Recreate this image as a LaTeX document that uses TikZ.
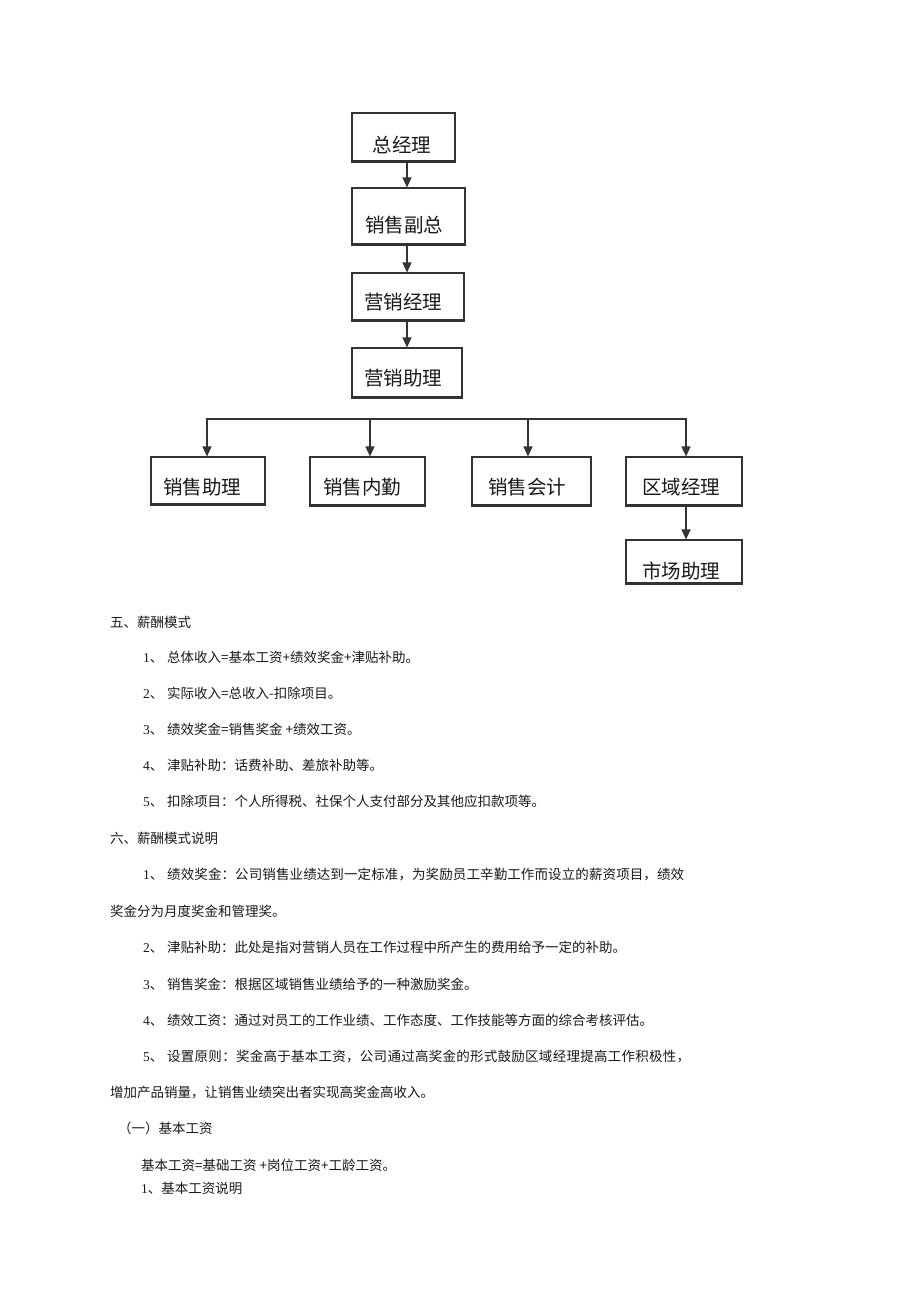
\documentclass[tikz,border=0pt]{standalone}
\usepackage{fontspec}
\usetikzlibrary{arrows.meta}
\newfontfamily\cjk{Noto Sans CJK SC}
\newfontfamily\cjkwa[LetterSpace=0.8]{Noto Sans CJK SC}
\newfontfamily\cjkwb[LetterSpace=2.0]{Noto Sans CJK SC}
\newfontfamily\tms{Liberation Serif}
\definecolor{ln}{HTML}{333333}
\definecolor{tx}{HTML}{1A1A1A}
\begin{document}
\begin{tikzpicture}[x=1pt,y=-1pt,
  box/.style={draw=ln, line width=1.1pt, rectangle, inner sep=0pt},
  ctext/.style={font=\cjk\fontsize{19.5pt}{22pt}\selectfont, text=tx, inner sep=0pt, anchor=center},
  body/.style={font=\cjk\fontsize{13.5pt}{16pt}\selectfont, text=tx, inner sep=0pt, anchor=base west},
  num/.style={font=\tms\fontsize{13.5pt}{16pt}\selectfont, text=tx, inner sep=0pt, anchor=base west},
  arr/.style={draw=ln, line width=1.3pt, -{Triangle[length=10pt,width=9pt]}},
  twoarr/.style={draw=ln, line width=1.3pt, {Triangle[length=10pt,width=9pt]}-{Triangle[length=10pt,width=9pt]}},
  bar/.style={draw=ln, line width=1.3pt}]
\fill[white] (0,0) rectangle (920,1303);
\useasboundingbox (0,0) rectangle (920,1303);

% boxes
\node[box, minimum width=103pt, minimum height=48pt] (zjl)  at (403.5,137) {};
\node[box, minimum width=113pt, minimum height=56pt] (xsfz) at (408.5,216) {};
\node[box, minimum width=112pt, minimum height=47pt] (yxjl) at (408,296.5) {};
\node[box, minimum width=110pt, minimum height=49pt] (yxzl) at (407,372.5) {};
\node[box, minimum width=114pt, minimum height=47pt] (xszl) at (208,480.5) {};
\node[box, minimum width=115pt, minimum height=48pt] (xsnq) at (367.5,481) {};
\node[box, minimum width=119pt, minimum height=48pt] (xskj) at (531.5,481) {};
\node[box, minimum width=116pt, minimum height=48pt] (qyjl) at (684,481) {};
\node[box, minimum width=116pt, minimum height=43pt] (sczl) at (684,561.5) {};
\foreach \n in {zjl,xsfz,yxjl,yxzl,xszl,xsnq,xskj,qyjl,sczl}
  \draw[ln, line width=2pt] (\n.south west) -- (\n.south east);

% box texts
\node[ctext] (tzjl)  at (402,145) {总经理};
\node[ctext] (txsfz) at (404,225) {销售副总};
\node[ctext] (tyxjl) at (403,302) {营销经理};
\node[ctext] (tyxzl) at (403,378) {营销助理};
\node[ctext] (txszl) at (202,487) {销售助理};
\node[ctext] (txsnq) at (362,487) {销售内勤};
\node[ctext] (txskj) at (527,487) {销售会计};
\node[ctext] (tqyjl) at (681,487) {区域经理};
\node[ctext] (tsczl) at (681,571) {市场助理};

% connectors
\coordinate (colx) at (407,0);
\draw[arr] (zjl.south -| colx) -- (xsfz.north -| colx);
\draw[arr] (xsfz.south -| colx) -- (yxjl.north -| colx);
\draw[arr] (yxjl.south -| colx) -- (yxzl.north -| colx);
\coordinate (bL) at (207,419);
\coordinate (d2) at (370,419);
\coordinate (d3) at (528,419);
\coordinate (bR) at (686,419);
\draw[twoarr] (bL |- xszl.north) -- (bL) -- (bR) -- (bR |- qyjl.north);
\draw[arr] (d2) -- (d2 |- xsnq.north);
\draw[arr] (d3) -- (d3 |- xskj.north);
\draw[arr] (qyjl.south -| bR) -- (sczl.north -| bR);

% text section five
\node[body] (h5) at (110,627) {五、薪酬模式};
\node[num] (n51) at (143,662) {1{\cjk 、}};
\node[body] (t51) at (167,662) {总体收入=基本工资+绩效奖金+津贴补助。};
\node[num] (n52) at (143,698) {2{\cjk 、}};
\node[body] (t52) at (167,698) {实际收入=总收入-扣除项目。};
\node[num] (n53) at (143,734) {3{\cjk 、}};
\node[body] (t53) at (167,734) {绩效奖金=销售奖金 +绩效工资。};
\node[num] (n54) at (143,770) {4{\cjk 、}};
\node[body] (t54) at (167,770) {津贴补助：话费补助、差旅补助等。};
\node[num] (n55) at (143,806) {5{\cjk 、}};
\node[body] (t55) at (167,806) {扣除项目：个人所得税、社保个人支付部分及其他应扣款项等。};

% section six
\node[body] (h6) at (110,843) {六、薪酬模式说明};
\node[num] (n61) at (143,879) {1{\cjk 、}};
\node[body, font=\cjkwa\fontsize{13.5pt}{16pt}\selectfont] (t61) at (167,879) {绩效奖金：公司销售业绩达到一定标准，为奖励员工辛勤工作而设立的薪资项目，绩效};
\node[body] (t61b) at (110,916) {奖金分为月度奖金和管理奖。};
\node[num] (n62) at (143,952) {2{\cjk 、}};
\node[body] (t62) at (167,952) {津贴补助：此处是指对营销人员在工作过程中所产生的费用给予一定的补助。};
\node[num] (n63) at (143,989) {3{\cjk 、}};
\node[body] (t63) at (167,989) {销售奖金：根据区域销售业绩给予的一种激励奖金。};
\node[num] (n64) at (143,1025) {4{\cjk 、}};
\node[body] (t64) at (167,1025) {绩效工资：通过对员工的工作业绩、工作态度、工作技能等方面的综合考核评估。};
\node[num] (n65) at (143,1061) {5{\cjk 、}};
\node[body, font=\cjkwb\fontsize{13.5pt}{16pt}\selectfont] (t65) at (167,1061) {设置原则：奖金高于基本工资，公司通过高奖金的形式鼓励区域经理提高工作积极性，};
\node[body] (t65b) at (110,1097) {增加产品销量，让销售业绩突出者实现高奖金高收入。};
\node[body] (h61) at (118,1133) {（一）基本工资};
\node[body] (f1) at (141,1170) {基本工资=基础工资 +岗位工资+工龄工资。};
\node[num] (s1) at (141,1193) {1{\cjk 、基本工资说明}};
\end{tikzpicture}
\end{document}
